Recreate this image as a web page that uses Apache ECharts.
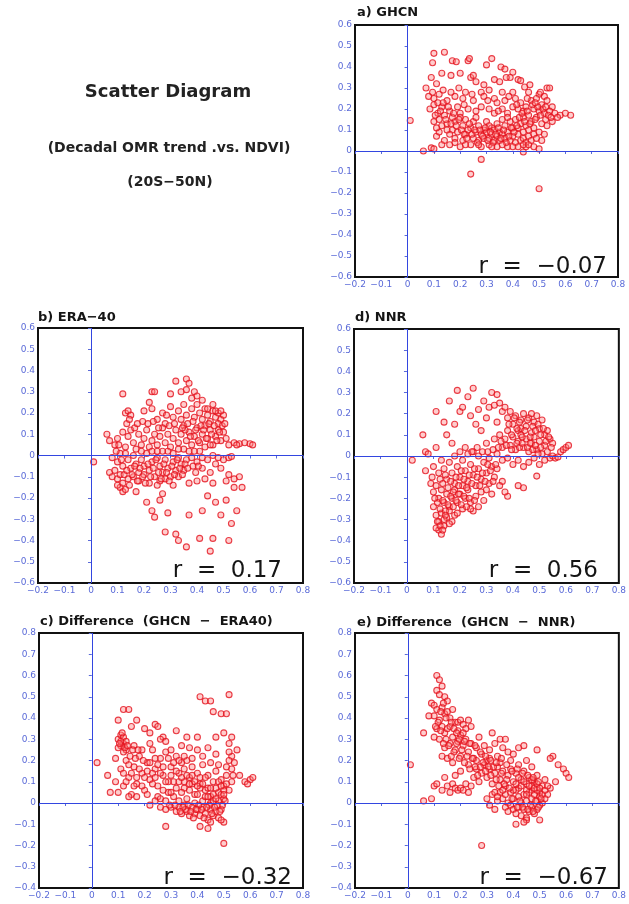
<!DOCTYPE html>
<html><head><meta charset="utf-8">
<script src="https://cdn.jsdelivr.net/npm/echarts@6/dist/echarts.min.js"></script>
<style>html,body{margin:0;padding:0;background:#fff}#c{width:629px;height:904px}</style>
</head><body><div id="c"></div>
<script>
// x: NDVI, y: decadal OMR trend
const ghcn = [
[0.01,0.145],[0.06,0.0],[0.09,0.015],[0.10,0.01],[0.24,-0.11],[0.28,-0.04],[0.50,-0.18],[0.44,-0.005],
[0.10,0.465],[0.14,0.47],[0.095,0.42],[0.17,0.43],[0.185,0.425],[0.23,0.43],[0.235,0.44],[0.32,0.44],[0.30,0.41],[0.355,0.40],[0.37,0.39],[0.40,0.375],[0.39,0.35],[0.42,0.34],
[0.13,0.37],[0.165,0.36],[0.20,0.37],[0.24,0.35],[0.25,0.36],[0.26,0.33],[0.29,0.315],[0.33,0.34],[0.375,0.35],[0.35,0.33],[0.43,0.335],[0.445,0.305],[0.465,0.315],[0.53,0.30],[0.54,0.30],[0.07,0.30],[0.11,0.32],[0.09,0.35],[0.195,0.30],[0.22,0.28],[0.28,0.28],[0.31,0.29],[0.36,0.28],[0.40,0.28],[0.46,0.28],[0.50,0.27],[0.52,0.26],
[0.08,0.26],[0.10,0.25],[0.12,0.27],[0.15,0.24],[0.18,0.26],[0.21,0.25],[0.25,0.24],[0.29,0.26],[0.33,0.25],[0.34,0.23],[0.37,0.24],[0.41,0.25],[0.43,0.23],[0.47,0.24],[0.49,0.25],[0.51,0.22],[0.53,0.24],[0.55,0.21],
[0.085,0.20],[0.10,0.22],[0.115,0.18],[0.13,0.21],[0.14,0.17],[0.16,0.19],[0.19,0.21],[0.20,0.18],[0.23,0.20],[0.26,0.19],[0.28,0.21],[0.31,0.20],[0.33,0.18],[0.36,0.20],[0.38,0.18],[0.40,0.21],[0.42,0.20],[0.44,0.19],[0.45,0.21],[0.46,0.17],[0.48,0.20],[0.50,0.19],[0.52,0.18],[0.54,0.19],[0.56,0.18],[0.58,0.17],[0.60,0.18],[0.62,0.17],[0.57,0.16],
[0.10,0.14],[0.12,0.15],[0.13,0.12],[0.15,0.13],[0.17,0.10],[0.18,0.14],[0.21,0.12],[0.22,0.15],[0.24,0.11],[0.25,0.14],[0.27,0.12],[0.29,0.10],[0.30,0.14],[0.32,0.11],[0.34,0.13],[0.35,0.09],[0.37,0.12],[0.39,0.14],[0.40,0.11],[0.41,0.15],[0.43,0.13],[0.44,0.16],[0.45,0.12],[0.47,0.14],[0.48,0.11],[0.49,0.16],[0.51,0.13],[0.53,0.12],[0.55,0.14],
[0.11,0.07],[0.12,0.09],[0.14,0.05],[0.16,0.08],[0.18,0.06],[0.19,0.09],[0.21,0.05],[0.22,0.08],[0.23,0.10],[0.25,0.06],[0.26,0.09],[0.27,0.05],[0.28,0.08],[0.29,0.06],[0.30,0.09],[0.31,0.06],[0.32,0.08],[0.33,0.05],[0.34,0.07],[0.35,0.05],[0.36,0.08],[0.37,0.06],[0.38,0.09],[0.39,0.05],[0.40,0.07],[0.41,0.04],[0.42,0.08],[0.43,0.05],[0.44,0.06],[0.45,0.04],[0.46,0.07],[0.47,0.05],[0.48,0.08],[0.49,0.06],[0.50,0.09],[0.51,0.05],
[0.13,0.03],[0.16,0.03],[0.20,0.02],[0.24,0.03],[0.28,0.02],[0.31,0.03],[0.34,0.02],[0.38,0.02],[0.42,0.02],[0.45,0.02],[0.48,0.02],[0.50,0.01],[0.33,0.10],[0.31,0.12],[0.46,0.10],[0.44,0.09],[0.42,0.11],[0.52,0.08],[0.15,0.10],[0.36,0.15],[0.38,0.16],[0.26,0.16],[0.20,0.16],[0.11,0.11],[0.17,0.16],
[0.285,0.07],[0.295,0.11],[0.305,0.05],[0.315,0.09],[0.325,0.04],[0.335,0.08],[0.345,0.11],[0.355,0.06],[0.365,0.10],[0.375,0.04],[0.385,0.07],[0.395,0.11],[0.405,0.09],[0.415,0.12],[0.425,0.16],[0.435,0.18],[0.445,0.14],[0.455,0.19],[0.465,0.13],[0.475,0.22],[0.485,0.15],[0.495,0.21],[0.505,0.17],[0.515,0.20],[0.525,0.15],[0.535,0.17],[0.545,0.16],[0.125,0.19],[0.135,0.23],[0.145,0.15],[0.155,0.21],[0.165,0.13],[0.175,0.18],[0.185,0.12],[0.195,0.15],[0.205,0.10],[0.215,0.08],[0.225,0.06],[0.235,0.13],[0.245,0.08],[0.255,0.10],[0.265,0.04],[0.275,0.10],[0.105,0.17],[0.115,0.23],[0.095,0.28],[0.135,0.29],[0.165,0.28],[0.215,0.22],[0.245,0.27],[0.305,0.24],[0.345,0.19],[0.385,0.26],[0.415,0.22],[0.455,0.25],[0.485,0.23],[0.505,0.28],[0.525,0.21],[0.44,0.03],[0.46,0.03],[0.40,0.02],[0.36,0.03],[0.32,0.02],[0.27,0.03],[0.22,0.03],[0.18,0.04]
];
const era40 = [
[0.01,-0.03],[0.06,0.10],[0.07,0.07],[0.12,0.29],[0.23,0.30],[0.24,0.30],[0.30,0.29],[0.32,0.35],[0.36,0.36],[0.37,0.34],[0.34,0.30],[0.39,0.30],[0.40,0.28],[0.42,0.26],[0.38,0.27],[0.36,0.31],
[0.21,-0.22],[0.23,-0.26],[0.24,-0.29],[0.26,-0.21],[0.27,-0.18],[0.29,-0.27],[0.28,-0.36],[0.32,-0.37],[0.33,-0.40],[0.36,-0.43],[0.37,-0.28],[0.41,-0.39],[0.42,-0.26],[0.45,-0.45],[0.46,-0.39],[0.47,-0.22],[0.49,-0.28],[0.51,-0.21],[0.52,-0.40],[0.53,-0.32],[0.55,-0.26],[0.54,-0.15],[0.56,-0.10],[0.57,-0.15],[0.52,-0.09],[0.44,-0.19],[0.37,-0.13],[0.31,-0.14],[0.17,-0.17],[0.11,-0.15],[0.12,-0.17],[0.13,-0.16],[0.10,-0.14],[0.22,-0.13],[0.26,-0.12],[0.40,-0.12],[0.43,-0.11],[0.46,-0.13],[0.49,-0.06],[0.35,-0.07],
[0.13,0.20],[0.14,0.21],[0.15,0.19],[0.20,0.21],[0.22,0.25],[0.23,0.22],[0.25,0.17],[0.27,0.20],[0.28,0.15],[0.30,0.23],[0.31,0.18],[0.33,0.21],[0.34,0.17],[0.35,0.24],[0.36,0.19],[0.38,0.22],[0.39,0.18],[0.40,0.24],[0.41,0.20],[0.42,0.17],[0.43,0.22],[0.44,0.19],[0.45,0.16],[0.46,0.21],[0.47,0.18],[0.48,0.20],[0.49,0.17],[0.50,0.19],[0.48,0.15],
[0.09,0.05],[0.10,0.08],[0.12,0.11],[0.13,0.04],[0.14,0.09],[0.15,0.12],[0.16,0.06],[0.18,0.10],[0.19,0.05],[0.20,0.08],[0.21,0.12],[0.22,0.04],[0.23,0.07],[0.24,0.10],[0.25,0.05],[0.26,0.09],[0.27,0.13],[0.28,0.06],[0.29,0.10],[0.30,0.04],[0.31,0.08],[0.32,0.12],[0.33,0.06],[0.34,0.10],[0.35,0.14],[0.36,0.07],[0.37,0.11],[0.38,0.05],[0.39,0.09],[0.40,0.13],[0.41,0.06],[0.42,0.10],[0.43,0.14],[0.44,0.08],[0.45,0.12],[0.46,0.05],[0.47,0.09],[0.48,0.12],[0.49,0.07],[0.50,0.11],[0.51,0.08],[0.52,0.05],[0.54,0.06],[0.56,0.055],[0.58,0.06],[0.60,0.055],[0.61,0.05],[0.55,0.05],
[0.08,-0.01],[0.10,-0.03],[0.11,0.01],[0.12,-0.05],[0.14,-0.02],[0.15,-0.06],[0.16,0.0],[0.17,-0.04],[0.18,-0.08],[0.19,-0.02],[0.20,-0.05],[0.21,0.01],[0.22,-0.07],[0.23,-0.03],[0.24,-0.10],[0.25,-0.01],[0.26,-0.05],[0.27,-0.08],[0.28,-0.02],[0.29,-0.06],[0.30,-0.10],[0.31,-0.03],[0.32,-0.07],[0.33,-0.01],[0.34,-0.04],[0.36,-0.02],[0.38,-0.01],[0.40,-0.03],[0.42,-0.01],[0.44,-0.02],[0.46,0.0],[0.48,-0.01],[0.50,-0.02],[0.52,-0.01],[0.53,-0.005],
[0.07,-0.08],[0.08,-0.10],[0.09,-0.07],[0.10,-0.11],[0.11,-0.09],[0.12,-0.13],[0.14,-0.11],[0.16,-0.10],[0.18,-0.12],[0.20,-0.09],[0.25,-0.14],[0.28,-0.11],[0.33,-0.10],[0.42,-0.06],[0.45,-0.08],[0.47,-0.04],[0.51,-0.12],[0.54,-0.11],
[0.355,0.12],[0.365,0.15],[0.375,0.09],[0.385,0.16],[0.395,0.12],[0.405,0.07],[0.415,0.14],[0.425,0.12],[0.435,0.08],[0.445,0.15],[0.455,0.10],[0.465,0.14],[0.475,0.07],[0.485,0.11],[0.495,0.14],[0.505,0.15],[0.44,0.22],[0.46,0.24],[0.47,0.21],[0.49,0.21],[0.45,0.05],[0.43,0.04],[0.41,0.02],[0.39,0.02],[0.37,0.02],[0.35,0.03],[0.33,0.03],[0.31,0.01],[0.29,0.02],[0.27,0.02],[0.25,0.02],[0.23,0.02],[0.19,0.02],[0.17,0.03],[0.13,0.01],[0.115,-0.02],[0.125,-0.09],[0.135,-0.07],[0.145,-0.14],[0.155,-0.09],[0.165,-0.05],[0.175,-0.12],[0.185,-0.06],[0.195,-0.10],[0.205,-0.13],[0.215,-0.04],[0.225,-0.10],[0.235,-0.06],[0.245,-0.02],[0.255,-0.08],[0.265,-0.11],[0.275,-0.04],[0.285,-0.08],[0.295,-0.12],[0.305,-0.05],[0.315,-0.09],[0.325,-0.02],[0.335,-0.06],[0.345,-0.09],[0.355,-0.04],[0.365,-0.06],[0.385,-0.05],[0.395,-0.08],[0.405,-0.05],[0.135,0.15],[0.145,0.17],[0.165,0.13],[0.175,0.15],[0.195,0.16],[0.215,0.15],[0.235,0.16],[0.255,0.13],[0.285,0.19],[0.295,0.14],[0.315,0.15],[0.345,0.13],[0.095,0.02],[0.105,0.05]
];
const nnr = [
[0.02,-0.02],[0.06,0.10],[0.07,0.02],[0.07,-0.07],[0.08,0.01],[0.11,0.21],[0.11,0.04],[0.14,0.16],[0.15,0.10],[0.16,0.26],[0.17,0.06],[0.18,0.15],[0.19,0.31],[0.20,0.21],[0.21,0.23],[0.23,0.28],[0.25,0.32],[0.24,0.19],[0.26,0.15],[0.27,0.22],[0.28,0.12],[0.29,0.26],[0.30,0.18],[0.32,0.30],[0.31,0.23],[0.33,0.24],[0.34,0.29],[0.35,0.25],[0.34,0.16],[0.36,0.21],[0.37,0.23],[0.33,0.08],[0.30,0.06],[0.22,0.04],[0.25,0.02],[0.20,0.02],
[0.38,0.18],[0.39,0.21],[0.40,0.15],[0.41,0.19],[0.42,0.12],[0.43,0.17],[0.44,0.20],[0.45,0.14],[0.46,0.18],[0.47,0.11],[0.48,0.16],[0.49,0.19],[0.50,0.13],[0.51,0.17],[0.52,0.10],[0.53,0.12],[0.54,0.08],[0.55,0.06],[0.47,0.20],[0.43,0.13],
[0.37,0.08],[0.38,0.12],[0.39,0.05],[0.40,0.09],[0.41,0.03],[0.42,0.07],[0.43,0.10],[0.44,0.04],[0.45,0.08],[0.46,0.02],[0.47,0.06],[0.48,0.09],[0.49,0.03],[0.50,0.07],[0.51,0.01],[0.52,0.05],[0.53,0.02],[0.54,-0.01],[0.55,0.0],[0.56,-0.01],[0.57,-0.005],[0.58,0.02],[0.59,0.03],[0.60,0.04],[0.61,0.05],[0.36,0.04],[0.35,0.10],
[0.34,0.01],[0.36,-0.02],[0.38,-0.01],[0.40,-0.04],[0.42,-0.02],[0.44,-0.05],[0.46,-0.03],[0.48,-0.01],[0.50,-0.04],[0.52,-0.02],[0.49,-0.095],[0.44,-0.15],[0.42,-0.14],[0.38,-0.19],[0.37,-0.17],[0.36,-0.12],[0.35,-0.14],
[0.10,-0.05],[0.12,-0.08],[0.13,-0.02],[0.14,-0.06],[0.15,-0.11],[0.16,-0.03],[0.17,-0.08],[0.18,-0.13],[0.19,-0.05],[0.20,-0.10],[0.21,-0.02],[0.22,-0.07],[0.23,-0.12],[0.24,-0.04],[0.25,-0.09],[0.26,-0.14],[0.27,-0.06],[0.28,-0.11],[0.29,-0.03],[0.30,-0.08],[0.31,-0.13],[0.32,-0.05],[0.33,-0.10],[0.34,-0.06],[0.31,-0.01],[0.27,0.0],[0.23,0.01],[0.18,0.0],
[0.09,-0.13],[0.10,-0.17],[0.11,-0.14],[0.12,-0.20],[0.13,-0.16],[0.14,-0.22],[0.15,-0.18],[0.16,-0.24],[0.17,-0.20],[0.18,-0.16],[0.19,-0.22],[0.20,-0.18],[0.21,-0.14],[0.22,-0.20],[0.23,-0.16],[0.24,-0.22],[0.25,-0.26],[0.26,-0.19],[0.27,-0.24],[0.28,-0.17],[0.29,-0.21],[0.30,-0.16],[0.32,-0.18],
[0.10,-0.24],[0.11,-0.28],[0.12,-0.31],[0.13,-0.27],[0.14,-0.33],[0.15,-0.29],[0.16,-0.26],[0.17,-0.31],[0.18,-0.28],[0.12,-0.35],[0.13,-0.37],[0.11,-0.34],[0.14,-0.30],[0.19,-0.27],[0.16,-0.32],[0.21,-0.25],[0.24,-0.25],
[0.385,0.15],[0.395,0.10],[0.405,0.18],[0.415,0.13],[0.425,0.16],[0.435,0.09],[0.445,0.12],[0.455,0.17],[0.465,0.09],[0.475,0.14],[0.485,0.12],[0.495,0.15],[0.505,0.10],[0.515,0.13],[0.525,0.07],[0.535,0.09],[0.545,0.04],[0.455,0.04],[0.465,0.06],[0.475,0.03],[0.485,0.05],[0.495,0.01],[0.505,0.04],[0.415,0.06],[0.425,0.04],[0.435,0.06],[0.395,0.03],[0.375,0.05],[0.355,0.07],[0.345,0.04],[0.325,0.03],[0.305,0.02],[0.285,0.02],[0.265,0.04],[0.245,0.02],[0.125,-0.11],[0.135,-0.13],[0.145,-0.09],[0.155,-0.15],[0.165,-0.12],[0.175,-0.17],[0.185,-0.10],[0.195,-0.14],[0.205,-0.07],[0.215,-0.11],[0.225,-0.15],[0.235,-0.09],[0.245,-0.13],[0.255,-0.06],[0.265,-0.10],[0.275,-0.14],[0.285,-0.08],[0.295,-0.12],[0.305,-0.04],[0.315,-0.07],[0.325,-0.12],[0.335,-0.04],[0.115,-0.22],[0.125,-0.25],[0.135,-0.21],[0.145,-0.26],[0.155,-0.23],[0.165,-0.19],[0.175,-0.24],[0.185,-0.21],[0.195,-0.18],[0.205,-0.23],[0.215,-0.19],[0.225,-0.24],[0.235,-0.20],[0.255,-0.21],[0.115,-0.31],[0.125,-0.33],[0.135,-0.35],[0.145,-0.28],[0.105,-0.20],[0.095,-0.10]
];
const diffEra = [
[0.02,0.19],[0.06,0.13],[0.07,0.05],[0.09,0.21],[0.10,0.39],[0.12,0.44],[0.14,0.44],[0.17,0.39],[0.15,0.36],[0.20,0.35],[0.22,0.33],[0.24,0.37],[0.25,0.36],[0.27,0.31],[0.26,0.30],[0.28,0.29],[0.32,0.34],[0.36,0.31],[0.37,0.26],[0.40,0.31],[0.41,0.50],[0.43,0.48],[0.45,0.48],[0.46,0.43],[0.49,0.42],[0.51,0.42],[0.52,0.51],[0.50,0.33],[0.53,0.31],[0.52,0.28],[0.47,0.31],[0.44,0.26],[0.55,0.25],[0.53,0.22],[0.52,0.20],
[0.10,0.30],[0.11,0.32],[0.12,0.28],[0.11,0.27],[0.12,0.31],[0.13,0.29],[0.10,0.26],[0.13,0.25],[0.11,0.29],[0.12,0.24],
[0.09,0.10],[0.10,0.05],[0.11,0.16],[0.12,0.08],[0.13,0.20],[0.14,0.12],[0.15,0.04],[0.16,0.17],[0.17,0.09],[0.18,0.22],[0.19,0.14],[0.20,0.06],[0.21,0.19],[0.22,0.11],[0.23,0.25],[0.24,0.16],[0.25,0.08],[0.26,0.21],[0.27,0.13],[0.28,0.24],[0.29,0.05],[0.30,0.17],[0.31,0.10],[0.32,0.22],[0.33,0.14],[0.34,0.19],[0.35,0.07],[0.36,0.20],[0.37,0.12],[0.38,0.17],[0.39,0.04],[0.40,0.14],[0.41,0.09],[0.42,0.18],[0.43,0.06],[0.44,0.13],[0.45,0.03],[0.46,0.10],[0.47,0.15],[0.48,0.05],[0.49,0.11],[0.50,0.08],[0.51,0.13],[0.52,0.06],[0.53,0.10],[0.56,0.13],[0.58,0.10],[0.60,0.11],[0.61,0.12],[0.59,0.09],
[0.14,0.03],[0.17,0.03],[0.19,0.08],[0.21,0.04],[0.23,0.09],[0.25,0.03],[0.27,0.06],[0.29,0.10],[0.31,0.03],[0.32,0.07],[0.33,0.01],[0.34,0.05],[0.35,0.10],[0.36,0.02],[0.37,0.06],[0.38,0.09],[0.39,0.00],[0.40,0.04],[0.41,0.07],[0.42,0.01],[0.43,0.03],[0.44,0.07],[0.45,0.00],[0.46,0.04],[0.47,0.07],[0.48,0.01],[0.49,0.04],[0.50,0.02],[0.50,0.06],
[0.22,-0.01],[0.26,-0.02],[0.28,-0.03],[0.30,-0.02],[0.32,-0.04],[0.33,-0.02],[0.34,-0.05],[0.35,-0.01],[0.36,-0.04],[0.37,-0.06],[0.38,-0.02],[0.39,-0.05],[0.40,-0.03],[0.41,-0.06],[0.42,-0.02],[0.43,-0.05],[0.44,-0.08],[0.45,-0.03],[0.46,-0.06],[0.47,-0.04],[0.48,-0.07],[0.49,-0.03],[0.50,-0.09],[0.49,-0.08],[0.28,-0.11],[0.41,-0.11],[0.44,-0.12],[0.50,-0.19],[0.45,-0.09],
[0.16,0.27],[0.19,0.25],[0.22,0.28],[0.24,0.21],[0.30,0.25],[0.33,0.20],[0.34,0.27],[0.35,0.22],[0.38,0.21],[0.40,0.25],[0.42,0.22],[0.45,0.19],[0.47,0.23],[0.48,0.18],[0.51,0.17],[0.52,0.24],
[0.30,0.13],[0.31,0.19],[0.32,0.15],[0.33,0.10],[0.34,0.12],[0.35,0.16],[0.36,0.13],[0.37,0.09],[0.38,0.13],[0.39,0.10],[0.40,0.08],[0.41,0.12],[0.42,0.09],[0.43,0.12],[0.44,0.03],[0.45,0.07],[0.46,0.01],[0.47,0.02],[0.48,0.10],[0.49,0.08],[0.50,0.04],[0.51,0.09],[0.505,0.01],[0.495,-0.01],[0.485,-0.04],[0.475,-0.01],[0.465,-0.02],[0.455,-0.05],[0.445,-0.01],[0.435,-0.02],[0.425,-0.07],[0.415,-0.03],[0.405,-0.01],[0.395,-0.03],[0.385,-0.07],[0.375,-0.04],[0.365,-0.01],[0.355,-0.03],[0.345,-0.02],[0.335,-0.04],[0.315,-0.01],[0.295,-0.01],[0.24,0.01],[0.26,0.02],[0.28,0.01],[0.30,0.05],[0.20,0.12],[0.21,0.15],[0.22,0.19],[0.23,0.14],[0.24,0.12],[0.25,0.18],[0.26,0.14],[0.27,0.17],[0.28,0.10],[0.29,0.21],[0.18,0.16],[0.17,0.12],[0.16,0.08],[0.15,0.14],[0.14,0.18],[0.13,0.10],[0.12,0.14],[0.115,0.33],[0.125,0.26],[0.105,0.28],[0.135,0.27],[0.145,0.22],[0.155,0.25],[0.165,0.21],[0.175,0.25],[0.195,0.20],[0.53,0.16],[0.54,0.19],[0.535,0.13]
];
const diffNnr = [
[0.01,0.18],[0.06,0.01],[0.09,0.02],[0.06,0.33],[0.28,-0.20],[0.41,-0.10],[0.50,-0.08],[0.57,0.18],[0.59,0.16],[0.60,0.14],[0.61,0.12],[0.55,0.22],[0.54,0.21],[0.56,0.10],[0.49,0.25],[0.42,0.26],[0.44,0.27],
[0.11,0.60],[0.12,0.58],[0.13,0.55],[0.11,0.53],[0.12,0.51],[0.14,0.50],[0.15,0.48],[0.09,0.47],[0.10,0.46],[0.11,0.44],[0.13,0.45],[0.14,0.42],[0.15,0.43],[0.16,0.40],[0.17,0.44],[0.18,0.38],[0.10,0.41],[0.08,0.41],[0.12,0.39],[0.13,0.36],[0.11,0.35],[0.10,0.31],[0.12,0.30],[0.14,0.33],[0.15,0.35],[0.16,0.36],[0.17,0.31],[0.19,0.38],[0.20,0.39],[0.21,0.37],[0.22,0.35],[0.23,0.39],[0.24,0.36],[0.19,0.34],[0.20,0.32],[0.21,0.33],
[0.13,0.22],[0.14,0.26],[0.15,0.21],[0.16,0.28],[0.17,0.19],[0.18,0.25],[0.19,0.29],[0.20,0.22],[0.21,0.27],[0.22,0.30],[0.23,0.24],[0.24,0.28],[0.25,0.21],[0.26,0.26],[0.27,0.31],[0.28,0.23],[0.29,0.27],[0.30,0.20],[0.31,0.25],[0.32,0.33],[0.33,0.28],[0.34,0.22],[0.35,0.30],[0.36,0.26],[0.37,0.30],[0.38,0.24],[0.39,0.20],[0.40,0.23],[0.35,0.19],
[0.10,0.08],[0.11,0.09],[0.13,0.06],[0.14,0.12],[0.15,0.08],[0.16,0.05],[0.17,0.09],[0.18,0.07],[0.19,0.06],[0.20,0.07],[0.21,0.06],[0.22,0.09],[0.23,0.05],[0.24,0.08],[0.25,0.12],[0.26,0.16],[0.27,0.10],[0.28,0.14],[0.29,0.18],[0.30,0.12],[0.31,0.16],[0.32,0.09],[0.33,0.14],[0.34,0.17],[0.35,0.11],[0.36,0.15],[0.37,0.08],[0.38,0.13],[0.39,0.16],[0.40,0.10],[0.41,0.14],[0.42,0.07],[0.43,0.11],[0.44,0.15],[0.45,0.09],[0.46,0.12],[0.47,0.06],[0.48,0.10],[0.49,0.13],[0.50,0.05],[0.51,0.08],[0.52,0.11],[0.53,0.04],[0.54,0.07],[0.23,0.18],[0.20,0.15],[0.18,0.13],[0.26,0.20],[0.31,0.21],[0.42,0.18],[0.45,0.20],[0.47,0.17],
[0.30,0.02],[0.32,0.04],[0.34,0.01],[0.35,0.05],[0.36,0.02],[0.37,0.04],[0.38,0.00],[0.39,0.05],[0.40,0.02],[0.41,0.06],[0.42,0.03],[0.43,0.00],[0.44,0.04],[0.45,0.01],[0.46,0.05],[0.47,0.02],[0.48,0.04],[0.49,0.01],[0.50,0.03],[0.51,0.00],[0.52,0.02],[0.49,0.06],[0.47,0.08],[0.45,0.06],
[0.31,-0.01],[0.33,-0.03],[0.37,-0.02],[0.38,-0.04],[0.39,-0.01],[0.40,-0.03],[0.41,-0.05],[0.42,-0.02],[0.43,-0.06],[0.44,-0.03],[0.45,-0.07],[0.46,-0.04],[0.47,-0.02],[0.48,-0.05],[0.49,-0.03],[0.50,-0.01],[0.45,-0.08],[0.44,-0.09],
[0.40,0.06],[0.41,0.09],[0.42,0.12],[0.43,0.08],[0.44,0.10],[0.45,0.04],[0.46,0.08],[0.47,0.11],[0.48,0.07],[0.49,0.09],[0.50,0.07],[0.51,0.04],[0.52,0.06],[0.53,0.08],[0.505,0.02],[0.495,-0.02],[0.485,0.01],[0.475,-0.04],[0.465,-0.01],[0.455,-0.03],[0.435,-0.02],[0.425,0.01],[0.415,-0.02],[0.395,0.02],[0.385,0.07],[0.375,0.11],[0.365,0.09],[0.355,0.14],[0.345,0.08],[0.335,0.11],[0.325,0.17],[0.315,0.13],[0.305,0.17],[0.295,0.15],[0.285,0.19],[0.275,0.17],[0.265,0.13],[0.255,0.17],[0.245,0.21],[0.235,0.16],[0.225,0.22],[0.215,0.19],[0.205,0.25],[0.195,0.21],[0.185,0.28],[0.175,0.24],[0.165,0.22],[0.155,0.27],[0.145,0.30],[0.135,0.28],[0.125,0.34],[0.115,0.38],[0.105,0.36],[0.125,0.43],[0.135,0.47],[0.145,0.40],[0.165,0.38],[0.175,0.35],[0.185,0.33],[0.195,0.30],[0.215,0.29],[0.235,0.28],[0.255,0.27],[0.275,0.24],[0.295,0.22],[0.315,0.20],[0.335,0.19],[0.355,0.21],[0.375,0.18],[0.395,0.15],[0.415,0.16],[0.435,0.14],[0.455,0.13],[0.475,0.12],[0.495,0.10],[0.33,0.05],[0.36,0.06],[0.34,0.03]
];
const panelTitles = ['a) GHCN', 'b) ERA\u221240', 'd) NNR', 'c) Difference  (GHCN  \u2212  ERA40)', 'e) Difference  (GHCN  \u2212  NNR)'];
const rValues = ['\u22120.07', '0.17', '0.56', '\u22120.32', '\u22120.67'];
const xRange = [-0.2, 0.8];
const yRanges = [[-0.6, 0.6], [-0.6, 0.6], [-0.6, 0.6], [-0.4, 0.8], [-0.4, 0.8]];
const seriesData = [ghcn, era40, nnr, diffEra, diffNnr];

const layout = [
  {left:355, top:25, width:263, height:252, tx:357, ty:14, rx:607, ry:267},
  {left:38, top:328, width:265, height:255, tx:38, ty:319, rx:282, ry:571},
  {left:354, top:329, width:268, height:254, tx:355, ty:319, rx:598, ry:571},
  {left:39, top:633, width:264, height:255, tx:40, ty:623, rx:292, ry:878},
  {left:355, top:633, width:267, height:255, tx:357, ty:624, rx:608, ry:878}
];
const labelBlue = '#5a6ad8';
const lineBlue = '#3346e0';
const fmt = v => { const r = Math.round(v*10)/10; return (r === 0 ? '0' : String(r)).replace('-', '\u2212'); };

const grids = [], xAxes = [], yAxes = [], series = [], graphics = [];
layout.forEach((L, i) => {
  grids.push({left:L.left, top:L.top, width:L.width, height:L.height, show:true, borderColor:'#111', borderWidth:2, backgroundColor:'#fff'});
  const axCommon = {
    gridIndex:i, type:'value', interval:0.1,
    splitLine:{show:false},
    axisLine:{show:false},
    axisTick:{show:true, length:3, lineStyle:{color:labelBlue, width:1}},
    axisLabel:{show:true, color:labelBlue, fontSize:9, fontFamily:'DejaVu Sans', margin:3, formatter:fmt, hideOverlap:false}
  };
  xAxes.push(Object.assign({}, axCommon, {min:xRange[0], max:xRange[1]}));
  yAxes.push(Object.assign({}, axCommon, {min:yRanges[i][0], max:yRanges[i][1]}));
  series.push({
    type:'scatter', xAxisIndex:i, yAxisIndex:i, data:seriesData[i],
    symbol:'circle', symbolSize:6,
    itemStyle:{color:'rgba(255,130,130,0.5)', borderColor:'#e3101c', borderWidth:1.1},
    markLine:{silent:true, symbol:'none', label:{show:false}, animation:false,
      lineStyle:{color:lineBlue, width:1, type:'solid'},
      data:[{xAxis:0},{yAxis:0}]},
    z:3
  });
  graphics.push({type:'text', left:L.tx, top:L.ty - 8, style:{text:panelTitles[i], fontSize:13, fontWeight:'bold', fontFamily:'DejaVu Sans', fill:'#151515'}});
  graphics.push({type:'text', x:L.rx, y:L.ry, z:10, style:{text:'r  =  ' + rValues[i], fontSize:23, fontFamily:'DejaVu Sans', fill:'#151515', textAlign:'right', textVerticalAlign:'middle'}});
});
graphics.push({type:'text', x:168, y:92, style:{text:'Scatter Diagram', fontSize:18, fontWeight:'bold', fontFamily:'DejaVu Sans', fill:'#222', textAlign:'center', textVerticalAlign:'middle'}});
graphics.push({type:'text', x:169, y:148, style:{text:'(Decadal OMR trend .vs. NDVI)', fontSize:14, fontWeight:'bold', fontFamily:'DejaVu Sans', fill:'#222', textAlign:'center', textVerticalAlign:'middle'}});
graphics.push({type:'text', x:170, y:182, style:{text:'(20S\u221250N)', fontSize:14, fontWeight:'bold', fontFamily:'DejaVu Sans', fill:'#222', textAlign:'center', textVerticalAlign:'middle'}});

const chart = echarts.init(document.getElementById('c'), null, {renderer:'canvas'});
chart.setOption({
  backgroundColor:'#fff', animation:false,
  grid:grids, xAxis:xAxes, yAxis:yAxes, series:series, graphic:graphics
});
</script></body></html>
